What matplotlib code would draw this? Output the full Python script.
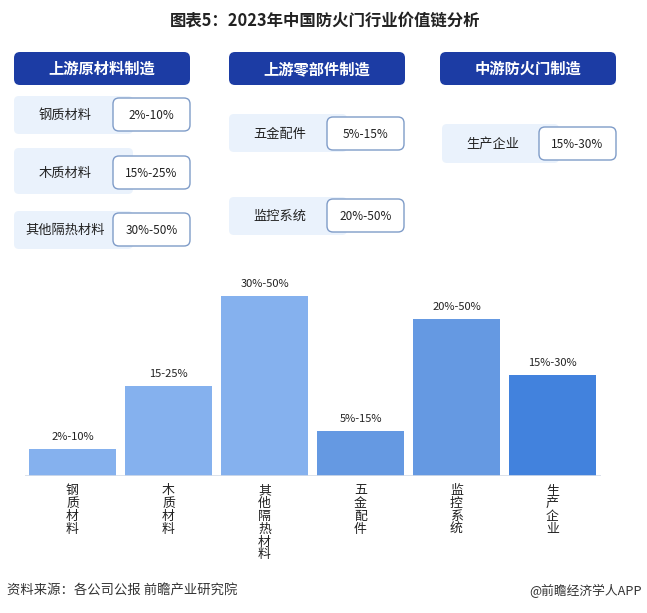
import matplotlib
matplotlib.use("Agg")
import matplotlib.pyplot as plt
from matplotlib.patches import FancyBboxPatch, Rectangle

plt.rcParams['font.family'] = ['Noto Sans CJK SC', 'DejaVu Sans']

# ---- data ----
title = "图表5：2023年中国防火门行业价值链分析"
stages = ["上游原材料制造", "上游零部件制造", "中游防火门制造"]
stage_items = [
    [("钢质材料", "2%-10%"), ("木质材料", "15%-25%"), ("其他隔热材料", "30%-50%")],
    [("五金配件", "5%-15%"), ("监控系统", "20%-50%")],
    [("生产企业", "15%-30%")],
]
categories = ["钢质材料", "木质材料", "其他隔热材料", "五金配件", "监控系统", "生产企业"]
bar_labels = ["2%-10%", "15-25%", "30%-50%", "5%-15%", "20%-50%", "15%-30%"]
values = [6, 20, 40, 10, 35, 22.5]  # bar heights (range midpoints)
bar_colors = ["#85b1ee", "#85b1ee", "#85b1ee", "#6599e2", "#6599e2", "#4282dd"]
source = "资料来源：各公司公报 前瞻产业研究院"
brand = "@前瞻经济学人APP"

W, H = 647, 613
fig = plt.figure(figsize=(W / 100, H / 100), dpi=100)
fig.patch.set_facecolor("white")

# overlay axes in pixel coordinates
ov = fig.add_axes([0, 0, 1, 1])
ov.set_xlim(0, W)
ov.set_ylim(H, 0)
ov.axis("off")

ov.text(W / 2 + 2, 20, title, ha="center", va="center", fontsize=11.8,
        fontweight="bold", color="#222222")

header_x = [14, 229, 440]
header_w = 176
for x, s in zip(header_x, stages):
    ov.add_patch(FancyBboxPatch((x + 4, 52 + 4), header_w - 8, 33 - 8,
                                boxstyle="round,pad=4,rounding_size=6",
                                fc="#1c3ca4", ec="none"))
    ov.text(x + header_w / 2, 69, s, ha="center", va="center", fontsize=11,
            fontweight="bold", color="white")

# item rows: (bg_y_top, bg_h, box_y_top)
row_geo = [
    [(96, 38, 98), (148, 46, 156), (211, 38, 213)],
    [(114, 38, 117), (197, 38, 199)],
    [(124, 39, 127)],
]
box_x = [113, 327, 539]
bg_x = [14, 229, 442]
box_w = 77
box_h = 33
for col in range(3):
    for (lab, val), (by, bh, vy) in zip(stage_items[col], row_geo[col]):
        ov.add_patch(FancyBboxPatch((bg_x[col] + 3, by + 3), box_x[col] - bg_x[col] + 20 - 6, bh - 6,
                                    boxstyle="round,pad=3,rounding_size=5",
                                    fc="#eaf2fc", ec="none", zorder=1))
        ov.text((bg_x[col] + box_x[col]) / 2 + 2, vy + box_h / 2 + 1, lab,
                ha="center", va="center", fontsize=9.5, color="#222222", zorder=3)
        ov.add_patch(FancyBboxPatch((box_x[col] + 4, vy + 4), box_w - 8, box_h - 8,
                                    boxstyle="round,pad=4,rounding_size=6",
                                    fc="white", ec="#7f9cc8", lw=1.0, zorder=2))
        ov.text(box_x[col] + box_w / 2, vy + box_h / 2 + 1, val,
                ha="center", va="center", fontsize=8.5, color="#222222", zorder=3)

# ---- bar chart ----
step = 96.0
left_px = 72.5 - 0.5 * step
right_px = left_px + 6 * step
base_px = 476
top_px = 266
scale = 4.5  # px per unit
ax = fig.add_axes([left_px / W, 1 - base_px / H, (right_px - left_px) / W, (base_px - top_px) / H])
ax.set_xlim(-0.5, 5.5)
ax.set_ylim(0, (base_px - top_px) / scale)
ax.axis("off")
xs = list(range(len(values)))
ax.bar(xs, values, width=0.91, color=bar_colors, zorder=2)
for x, v, lab in zip(xs, values, bar_labels):
    ax.annotate(lab, (x, v), xytext=(0, 5), textcoords="offset points",
                ha="center", va="bottom", fontsize=8, color="#222222")
ax.axhline(0, color="#d5dde8", lw=1.2, zorder=3)

for x, c in zip(xs, categories):
    ax.annotate("\n".join(c), (x, 0), xytext=(0, -6), textcoords="offset points",
                ha="center", va="top", fontsize=9.3, linespacing=0.98, color="#222222")

ov.text(7, 591, source, ha="left", va="center", fontsize=9.6, color="#333333")
ov.text(642, 591, brand, ha="right", va="center", fontsize=9.2, color="#333333")

fig.savefig("out.png", dpi=100, facecolor="white")
